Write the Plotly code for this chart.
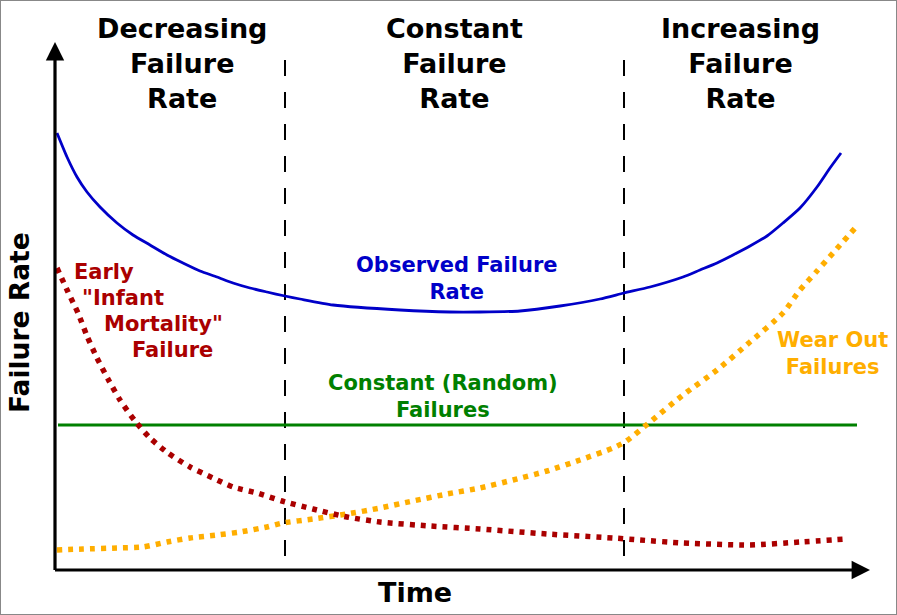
import plotly.graph_objects as go

# ---- data (arbitrary time / failure-rate units) ----
obs_t = [2, 12, 22, 32, 45, 62, 78, 95, 112, 128, 145, 162, 178, 195, 212, 230, 245, 278, 345, 395,
         425, 465, 505, 545, 569, 595, 628, 645, 662, 678, 695, 712, 728, 745, 762, 775, 786]
obs_r = [437, 413, 393, 378, 363, 347, 335, 325, 315, 307, 299, 293, 287, 282, 278, 274, 271, 265, 260, 258,
         258, 259, 264, 271, 277, 283, 293, 300, 307, 315, 324, 334, 347, 362, 383, 402, 417]

early_t = [2, 13, 23, 32, 42, 53, 65, 80, 95, 113, 135, 158, 178, 202, 227, 258, 292, 325, 375, 425,
           492, 558, 585, 628, 695, 745, 792]
early_r = [302, 278, 257, 234, 212, 191, 170, 149, 132, 117, 103, 92, 83, 77, 69, 61, 53, 48, 44, 41,
           36, 32, 30, 27, 25, 28, 31]

wear_t = [2, 28, 62, 88, 112, 135, 162, 185, 212, 228, 258, 292, 325, 358, 392, 425, 458, 492, 525, 558,
          570, 595, 628, 662, 695, 728, 745, 762, 778, 802]
wear_r = [20, 21, 22, 23, 28, 32, 35, 38, 43, 47, 51, 56, 62, 69, 76, 82, 90, 99, 110, 122,
          128, 148, 175, 200, 228, 257, 280, 299, 317, 344]

const_t = [3, 802]
const_r = [145, 145]

phase_bounds = [230, 569]
phase_top = 510
axis_x_end = 815
axis_y_end = 528

FONT = "DejaVu Sans"
BLUE = "#0000c8"
RED = "#aa0000"
GREEN = "#008000"
ORANGE = "#ffae00"

fig = go.Figure()

# phase boundaries (dashed, pattern starting from the top)
for b in phase_bounds:
    fig.add_trace(go.Scatter(x=[b, b], y=[phase_top, 0], mode="lines",
                             line=dict(color="black", width=2, dash="16px,16px"),
                             hoverinfo="skip", showlegend=False))

fig.add_trace(go.Scatter(x=const_t, y=const_r, mode="lines",
                         line=dict(color=GREEN, width=3), showlegend=False))
fig.add_trace(go.Scatter(x=wear_t, y=wear_r, mode="lines", line_shape="spline",
                         line=dict(color=ORANGE, width=5.5, dash="5px,6px", smoothing=0.6), showlegend=False))
fig.add_trace(go.Scatter(x=early_t, y=early_r, mode="lines", line_shape="spline",
                         line=dict(color=RED, width=5.5, dash="5px,6px", smoothing=0.6), showlegend=False))
fig.add_trace(go.Scatter(x=obs_t, y=obs_r, mode="lines", line_shape="spline",
                         line=dict(color=BLUE, width=2.8, smoothing=0.6), showlegend=False))

ann = []
# axes arrows
ann.append(dict(x=axis_x_end, y=0, ax=-1.5, ay=0, xref="x", yref="y", axref="x", ayref="y",
                showarrow=True, arrowhead=2, arrowsize=1.15, arrowwidth=3.2, arrowcolor="black", text=""))
ann.append(dict(x=0, y=axis_y_end, ax=0, ay=-1.5, xref="x", yref="y", axref="x", ayref="y",
                showarrow=True, arrowhead=2, arrowsize=1.15, arrowwidth=3.2, arrowcolor="black", text=""))

def txt(x, y, s, size, color, xanchor="center", textangle=0):
    return dict(x=x, y=y, xref="x", yref="y", text=s, showarrow=False, xanchor=xanchor,
                yanchor="middle", textangle=textangle, align="center",
                font=dict(family=FONT, size=size, color=color, weight="bold"))

ann.append(txt(127, 507, "Decreasing<br>Failure<br>Rate", 27, "black"))
ann.append(txt(399, 507, "Constant<br>Failure<br>Rate", 27, "black"))
ann.append(txt(685, 507, "Increasing<br>Failure<br>Rate", 27, "black"))
ann.append(txt(-36, 247, "Failure Rate", 26.5, "black", textangle=-90))
ann.append(txt(360, -22, "Time", 27, "black"))
ann.append(txt(402, 292, "Observed Failure<br>Rate", 21, BLUE))
ann.append(txt(388, 174, "Constant (Random)<br>Failures", 21, GREEN))
ann.append(txt(777, 217, "Wear Out<br>Failures", 21, ORANGE))
ann.append(txt(17, 298, "Early", 21, RED, xanchor="left"))
ann.append(txt(25, 272, "\"Infant", 21, RED, xanchor="left"))
ann.append(txt(47, 246, "Mortality\"", 21, RED, xanchor="left"))
ann.append(txt(75, 220, "Failure", 21, RED, xanchor="left"))

fig.update_layout(
    width=897, height=615,
    margin=dict(l=0, r=0, t=0, b=0),
    paper_bgcolor="white", plot_bgcolor="white",
    xaxis=dict(range=[-55, 842], visible=False, fixedrange=True),
    yaxis=dict(range=[-45, 570], visible=False, fixedrange=True),
    annotations=ann,
    shapes=[dict(type="rect", xref="paper", yref="paper", x0=0, y0=0, x1=1, y1=1,
                 line=dict(color="#888888", width=2))],
    showlegend=False,
)

fig.write_html("out.html", config={"displayModeBar": False},
               post_script="document.body.style.margin='0';document.body.style.padding='0';"
                           "document.body.style.overflow='hidden';")
